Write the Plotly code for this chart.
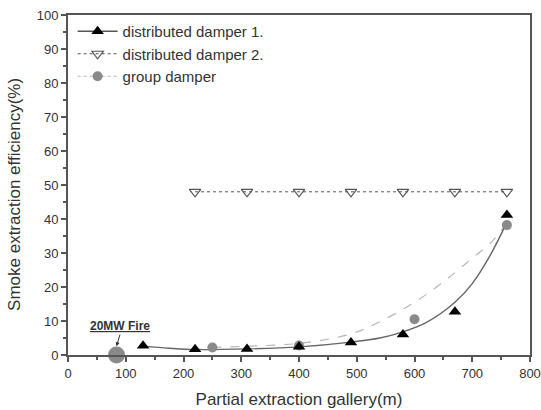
import plotly.graph_objects as go

# ---- data ----
d1_x = [130, 220, 310, 400, 490, 580, 670, 760]
d1_y = [2.7, 1.7, 1.8, 2.4, 3.7, 6.0, 12.7, 41.2]

d2_x = [220, 310, 400, 490, 580, 670, 760]
d2_y = [48, 48, 48, 48, 48, 48, 48]

grp_x = [250, 400, 600, 760]
grp_y = [2.2, 2.8, 10.5, 38.2]

# fitted curves
fit1_x = [130, 175, 220, 310, 400, 490, 540, 580, 620, 670, 700, 730, 760]
fit1_y = [2.6, 2.0, 1.6, 1.8, 2.4, 3.8, 5.0, 6.8, 9.5, 15.5, 21.0, 29.0, 39.0]

fit2_x = [250, 310, 400, 490, 540, 600, 650, 700, 735, 760]
fit2_y = [2.2, 2.6, 3.4, 6.2, 9.8, 15.5, 21.5, 28.5, 33.5, 39.0]

fire_x = [84]
fire_y = [0]

legend_names = ["distributed damper 1.", "distributed damper 2.", "group damper"]

FONT = "Liberation Sans, Arial"

fig = go.Figure()

# fitted curves
fig.add_trace(go.Scatter(x=fit2_x, y=fit2_y, mode="lines", line_shape="spline",
                         line=dict(color="#b5b5b5", width=1.2, dash="dash"),
                         showlegend=False, hoverinfo="skip"))
fig.add_trace(go.Scatter(x=fit1_x, y=fit1_y, mode="lines", line_shape="spline",
                         line=dict(color="#666666", width=1.4),
                         showlegend=False, hoverinfo="skip"))

# data series
fig.add_trace(go.Scatter(x=d2_x, y=d2_y, mode="lines+markers",
                         line=dict(color="#555555", width=1, dash="dot"),
                         marker=dict(symbol="triangle-down-open", size=10,
                                     color="#555555", line=dict(width=1.2)),
                         showlegend=False))
fig.add_trace(go.Scatter(x=grp_x, y=grp_y, mode="markers",
                         marker=dict(symbol="circle", size=10, color="#8a8a8a"),
                         showlegend=False))
fig.add_trace(go.Scatter(x=d1_x, y=d1_y, mode="markers",
                         marker=dict(symbol="triangle-up", size=11, color="black"),
                         showlegend=False))

# fire marker
fig.add_trace(go.Scatter(x=fire_x, y=fire_y, mode="markers",
                         marker=dict(symbol="circle", size=17, color="#8a8a8a"),
                         showlegend=False, cliponaxis=False))

# legend entries
fig.add_trace(go.Scatter(x=[None], y=[None], mode="lines+markers", name=legend_names[0],
                         line=dict(color="#555555", width=1.4),
                         marker=dict(symbol="triangle-up", size=11, color="black")))
fig.add_trace(go.Scatter(x=[None], y=[None], mode="lines+markers", name=legend_names[1],
                         line=dict(color="#555555", width=1, dash="dot"),
                         marker=dict(symbol="triangle-down-open", size=10, color="#555555",
                                     line=dict(width=1.2))))
fig.add_trace(go.Scatter(x=[None], y=[None], mode="lines+markers", name=legend_names[2],
                         line=dict(color="#b5b5b5", width=1, dash="dot"),
                         marker=dict(symbol="circle", size=10, color="#8a8a8a")))

fig.add_annotation(x=84, y=2.6, ax=90, ay=6.0, xref="x", yref="y", axref="x", ayref="y",
                   text="<b><u>20MW Fire</u></b>", showarrow=True, arrowhead=2,
                   arrowsize=0.8, arrowwidth=1, arrowcolor="#333333",
                   font=dict(size=12, color="#333333", family=FONT),
                   yanchor="bottom")

# y-axis title placed as rotated text
fig.add_annotation(x=-0.117, y=0.4735, xref="paper", yref="paper",
                   text="Smoke extraction efficiency(%)", textangle=-90,
                   showarrow=False, xanchor="center", yanchor="middle",
                   font=dict(size=17, color="#333333", family=FONT))

axis_common = dict(showline=True, linecolor="#555555", linewidth=2, mirror=True,
                   ticks="outside", ticklen=5, tickwidth=1.5, tickcolor="#555555",
                   showgrid=False, zeroline=False, automargin=False,
                   tickfont=dict(size=13, color="#333333", family=FONT))

fig.update_xaxes(range=[0, 800], dtick=100, tick0=0,
                 minor=dict(ticks="outside", dtick=50, ticklen=3, tickcolor="#555555"),
                 title=dict(text="Partial extraction gallery(m)", standoff=14,
                            font=dict(size=17, color="#333333", family=FONT)),
                 **axis_common)
fig.update_yaxes(range=[0, 100], dtick=10, tick0=0,
                 minor=dict(ticks="outside", dtick=5, ticklen=3, tickcolor="#555555"),
                 **axis_common)

fig.update_layout(
    width=541, height=410,
    margin=dict(l=68, r=11, t=15, b=55),
    plot_bgcolor="white", paper_bgcolor="white",
    legend=dict(x=0.01, y=1.0, xanchor="left", yanchor="top",
                bgcolor="rgba(0,0,0,0)", tracegroupgap=0, itemwidth=40,
                font=dict(size=15, color="#333333", family=FONT)),
    showlegend=True,
)

fig.write_html("out.html")
